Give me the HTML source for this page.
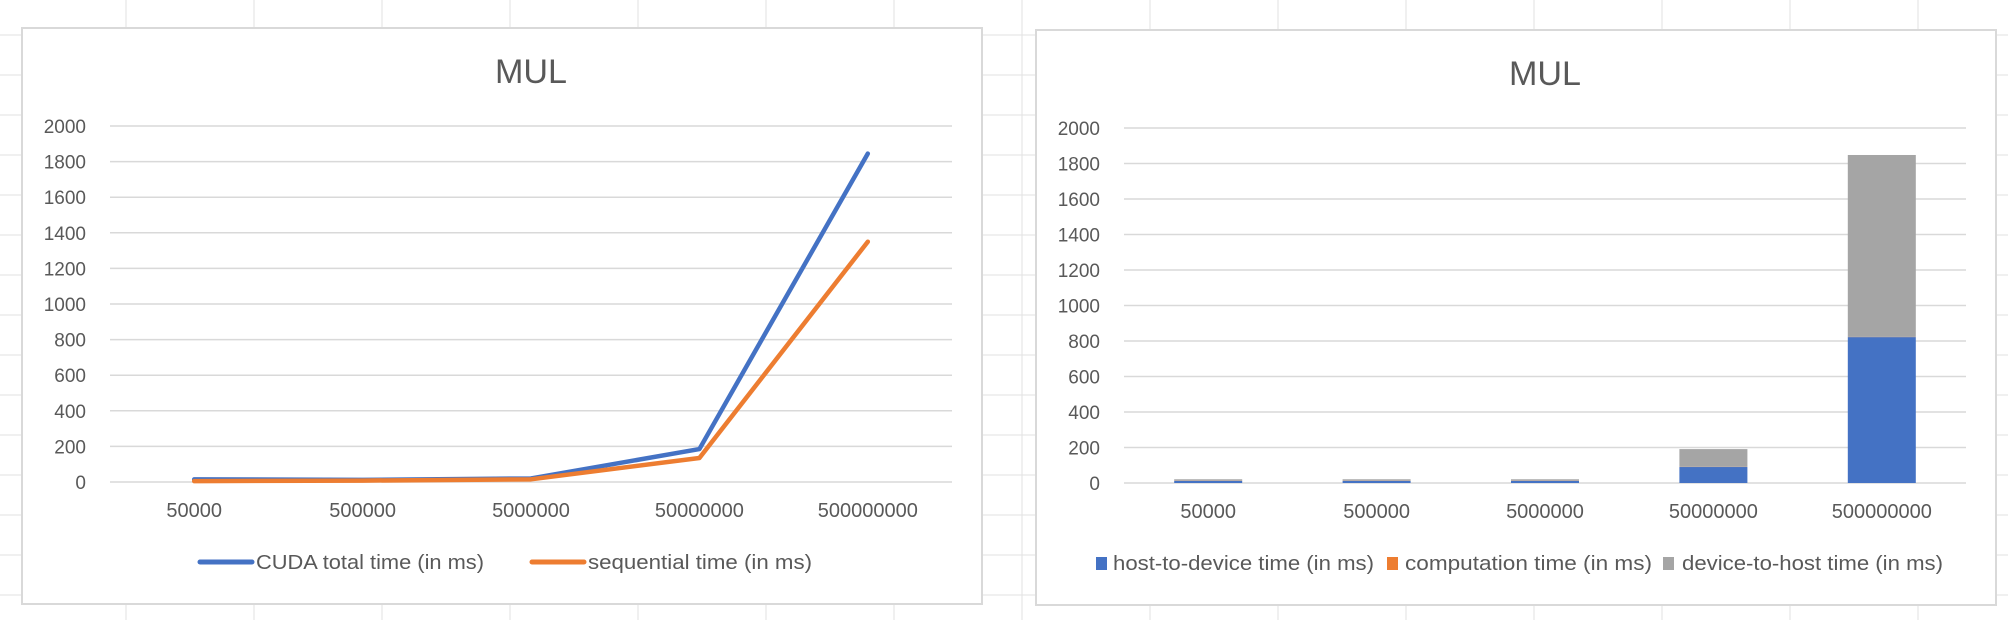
<!DOCTYPE html>
<html><head><meta charset="utf-8"><style>
html,body{margin:0;padding:0;background:#fff;}
svg{display:block;font-family:"Liberation Sans",sans-serif;}
</style></head><body>
<svg id="root" width="2008" height="620" viewBox="0 0 2008 620">
<g id="sheet"></g>
<g id="c1"></g>
<g id="c2"></g>
</svg>
<script>
const categories = ["50000","500000","5000000","50000000","500000000"];
const cudaTotal = [15, 12, 20, 185, 1845];
const sequential = [5, 8, 15, 135, 1350];
const hostToDevice = [12, 12, 12, 90, 822];
const computation = [1, 1, 1, 1, 1];
const deviceToHost = [8, 8, 8, 100, 1025];
const yTicks = [0,200,400,600,800,1000,1200,1400,1600,1800,2000];

const NS="http://www.w3.org/2000/svg";
function mk(parent,tag,attrs,text){const e=document.createElementNS(NS,tag);for(const k in attrs)e.setAttribute(k,attrs[k]);if(text!==undefined)e.textContent=text;parent.appendChild(e);return e;}

const sheet=document.getElementById('sheet');
for(let x=126;x<2008;x+=128){const l=mk(sheet,'line',{x1:x,y1:0,x2:x,y2:620,stroke:'#e2e2e2','stroke-width':1});

}
for(let y=35;y<620;y+=40){const l=mk(sheet,'line',{x1:0,y1:y,x2:2008,y2:y,stroke:'#e2e2e2','stroke-width':1});

}

function frame(g,box,plot){
  const r=mk(g,'rect',{x:box.x,y:box.y,width:box.w,height:box.h,fill:'#fff',stroke:'#d9d9d9','stroke-width':2});
  
  
  const t=mk(g,'text',{x:(plot.x0+plot.x1)/2,y:box.y+55,'font-size':34,fill:'#595959','text-anchor':'middle',textLength:72,lengthAdjust:'spacingAndGlyphs'},'MUL');
  
  
  const ys=v=>plot.y0-(v/2000)*(plot.y0-plot.y2000);
  yTicks.forEach(v=>{
    const l=mk(g,'line',{x1:plot.x0,x2:plot.x1,y1:ys(v),y2:ys(v),stroke:'#d9d9d9','stroke-width':1.5});
    
    
    const tx=mk(g,'text',{x:plot.x0-24,y:ys(v)+7,'font-size':19,fill:'#595959','text-anchor':'end'},String(v));
    
    
  });
  const bw=(plot.x1-plot.x0)/categories.length;
  const xs=i=>plot.x0+bw*(i+0.5);
  categories.forEach((c,i)=>{
    const tx=mk(g,'text',{x:xs(i),y:plot.y0+35,'font-size':20,fill:'#595959','text-anchor':'middle'},c);
    
    
  });
  return {xs,ys,bw};
}

const g1=document.getElementById('c1');
const a1=frame(g1,{x:22,y:28,w:960,h:576},{x0:110,x1:952,y0:482,y2000:126});
[[cudaTotal,'#4472c4','cuda-total-line'],[sequential,'#ed7d31','sequential-line']].forEach(([d,col,nm])=>{
  const pts=d.map((v,i)=>a1.xs(i)+','+a1.ys(v)).join(' ');
  const p=mk(g1,'polyline',{points:pts,fill:'none',stroke:col,'stroke-width':4.5,'stroke-linejoin':'round','stroke-linecap':'round'});
  
  
});
[[198,256,228,'#4472c4','CUDA total time (in ms)'],[530,588,224,'#ed7d31','sequential time (in ms)']].forEach(([lx,tx,tw,col,lab])=>{
  const l=mk(g1,'line',{x1:lx+2,x2:lx+54,y1:562,y2:562,stroke:col,'stroke-width':5,'stroke-linecap':'round'});
  
  
  const t=mk(g1,'text',{x:tx,y:569,'font-size':20,fill:'#595959',textLength:tw,lengthAdjust:'spacingAndGlyphs'},lab);
  
  
});

const g2=document.getElementById('c2');
const a2=frame(g2,{x:1036,y:30,w:960,h:575},{x0:1124,x1:1966,y0:483,y2000:128});
categories.forEach((c,i)=>{
  let base=0;
  [[hostToDevice,'#4472c4','bar-host-to-device'],[computation,'#ed7d31','bar-computation'],[deviceToHost,'#a5a5a5','bar-device-to-host']].forEach(([d,col,nm])=>{
    const v=d[i];const y1=a2.ys(base),y2=a2.ys(base+v);
    const r=mk(g2,'rect',{x:a2.xs(i)-34,y:y2,width:68,height:Math.max(0,y1-y2),fill:col});
    
    
    base+=v;
  });
});
[[1096,1113,261,'#4472c4','host-to-device time (in ms)'],[1387,1405,247,'#ed7d31','computation time (in ms)'],[1663,1682,261,'#a5a5a5','device-to-host time (in ms)']].forEach(([sx,tx,tw,col,lab])=>{
  const r=mk(g2,'rect',{x:sx,y:557,width:11,height:13,fill:col});
  
  
  const t=mk(g2,'text',{x:tx,y:570,'font-size':20,fill:'#595959',textLength:tw,lengthAdjust:'spacingAndGlyphs'},lab);
  
  
});
</script>
</body></html>
